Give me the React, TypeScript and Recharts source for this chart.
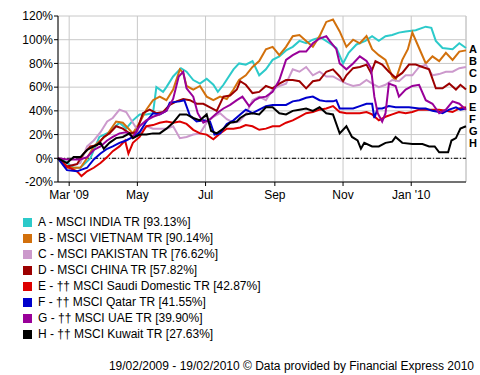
import { LineChart, Line, XAxis, YAxis, CartesianGrid, ReferenceLine, ReferenceDot } from "recharts";

// days counted from 19/02/2009
const TICK_DAYS = [10, 71, 132, 194, 255, 316];
const TICK_LABELS = ["Mar '09", "May", "Jul", "Sep", "Nov", "Jan '10"];
const Y_TICKS = [-20, 0, 20, 40, 60, 80, 100, 120];

const LETTERS = ["A", "B", "C", "D", "E", "F", "G", "H"];
const NAMES = [
  "MSCI INDIA TR [93.13%]",
  "MSCI VIETNAM TR [90.14%]",
  "MSCI PAKISTAN TR [76.62%]",
  "MSCI CHINA TR [57.82%]",
  "†† MSCI Saudi Domestic TR [42.87%]",
  "†† MSCI Qatar TR [41.55%]",
  "†† MSCI UAE TR [39.90%]",
  "†† MSCI Kuwait TR [27.63%]",
];
const COLORS = ["#2ccaca", "#d2700c", "#cc99cc", "#9c0000", "#dd0000", "#0000cc", "#990099", "#000000"];

const INDIA = [[0,0],[7,-3],[14,-8],[20,-8],[29,0],[37,18],[46,22],[55,30],[61,25],[67,32],[73,37],[79,37],[85,38],[88,60],[94,56],[97,60],[103,69],[110,76],[115,73],[121,66],[127,63],[133,67],[139,62],[143,56],[148,62],[157,75],[162,80],[168,79],[174,82],[180,70],[186,75],[192,83],[198,86],[204,91],[210,94],[216,99],[222,97],[228,100],[235,102],[243,97],[249,93],[255,80],[260,89],[267,96],[275,99],[281,103],[287,99],[293,103],[299,104],[305,106],[311,107],[320,108],[329,111],[334,110],[338,99],[344,93],[353,92],[359,97],[365,93]];
const VIETNAM = [[0,0],[8,-8],[20,-8],[26,0],[32,10],[38,15],[44,20],[52,31],[58,30],[61,27],[67,21],[73,30],[79,41],[85,49],[91,52],[97,49],[103,58],[109,75],[112,72],[115,61],[121,58],[127,61],[133,52],[139,49],[145,52],[151,50],[157,58],[162,66],[168,70],[174,77],[180,82],[186,92],[192,94],[198,87],[204,94],[210,103],[216,104],[222,99],[228,94],[234,103],[240,115],[246,117],[252,107],[258,94],[264,100],[270,97],[276,103],[281,92],[287,87],[293,83],[299,69],[302,66],[308,83],[313,92],[317,106],[323,93],[329,80],[335,86],[341,82],[347,89],[353,83],[359,90],[365,91]];
const PAKISTAN = [[0,0],[8,-7],[20,-4],[26,10],[32,15],[38,22],[44,31],[49,34],[55,41],[61,39],[67,30],[73,21],[79,27],[85,25],[91,25],[97,25],[103,27],[109,17],[115,18],[121,20],[127,21],[133,30],[139,35],[145,38],[151,33],[157,30],[162,31],[168,37],[174,49],[180,52],[186,49],[192,58],[198,61],[204,63],[210,75],[216,73],[222,77],[228,70],[234,73],[240,69],[246,69],[252,66],[258,63],[264,61],[270,62],[276,66],[281,63],[287,60],[293,62],[299,66],[305,65],[311,70],[317,70],[323,77],[329,79],[335,70],[341,71],[347,73],[353,73],[359,76],[365,77]];
const CHINA = [[0,0],[8,-7],[17,-5],[23,4],[29,10],[35,11],[41,18],[46,21],[52,27],[58,25],[64,21],[70,22],[76,38],[82,41],[88,38],[94,39],[100,45],[106,48],[112,50],[118,49],[124,46],[130,46],[136,43],[142,40],[148,52],[154,53],[160,58],[163,65],[168,62],[174,55],[180,56],[186,61],[192,59],[198,63],[204,66],[210,66],[216,65],[222,59],[228,65],[234,66],[240,73],[246,75],[252,69],[255,65],[258,70],[264,76],[270,77],[276,79],[280,72],[284,82],[290,79],[296,73],[302,68],[308,72],[314,79],[320,79],[326,77],[332,75],[338,59],[344,59],[350,63],[356,58],[360,62],[365,58]];
const SAUDI = [[0,0],[8,-7],[17,-11],[21,-15],[26,-11],[32,-8],[38,-4],[44,1],[49,6],[55,10],[60,15],[63,4],[67,13],[73,18],[79,27],[85,28],[91,30],[97,31],[103,30],[109,31],[115,29],[121,24],[127,21],[133,20],[139,16],[145,21],[151,25],[157,25],[163,26],[168,28],[174,27],[180,24],[186,25],[192,27],[198,27],[204,30],[210,32],[216,35],[222,38],[228,39],[234,41],[240,42],[246,44],[252,39],[258,38],[264,38],[270,38],[276,39],[281,37],[287,32],[293,35],[299,37],[305,39],[311,38],[317,39],[323,41],[329,41],[335,41],[341,41],[347,40],[353,39],[359,42],[365,43]];
const QATAR = [[0,0],[8,-10],[17,-11],[26,-8],[32,-1],[38,4],[44,8],[49,10],[55,13],[61,15],[67,18],[73,22],[79,31],[85,38],[91,37],[97,40],[100,47],[109,48],[113,49],[118,36],[124,31],[130,32],[136,31],[140,20],[145,21],[151,29],[157,32],[163,37],[168,41],[174,38],[180,41],[186,44],[192,45],[198,45],[204,45],[210,48],[216,49],[222,51],[228,52],[234,49],[240,48],[246,48],[249,49],[252,42],[258,42],[264,42],[270,44],[276,46],[281,46],[283,34],[286,42],[290,42],[296,44],[302,43],[308,43],[314,43],[323,42],[329,42],[335,40],[341,39],[344,38],[350,41],[356,43],[360,41],[365,42]];
const UAE = [[0,0],[8,-1],[20,-1],[26,1],[32,7],[38,10],[44,15],[49,18],[55,21],[61,22],[67,18],[73,27],[79,32],[85,35],[91,37],[97,40],[103,50],[108,69],[112,73],[115,59],[121,52],[125,38],[130,30],[136,33],[142,38],[148,42],[154,45],[160,49],[165,52],[171,44],[176,49],[180,51],[186,52],[192,56],[198,66],[204,83],[210,87],[216,90],[222,90],[228,97],[234,101],[240,103],[243,99],[249,92],[252,80],[258,75],[264,80],[270,86],[276,82],[280,76],[283,52],[286,38],[290,31],[293,38],[296,63],[302,61],[305,52],[311,58],[317,61],[323,62],[329,49],[335,46],[341,38],[347,41],[353,48],[359,46],[365,41]];
const KUWAIT = [[0,0],[8,-4],[14,1],[20,1],[26,7],[32,10],[38,13],[41,8],[46,13],[52,17],[58,18],[64,21],[67,17],[73,20],[79,20],[85,21],[91,21],[97,25],[103,30],[109,37],[115,37],[121,34],[127,32],[133,37],[137,23],[142,21],[148,25],[154,30],[160,31],[163,34],[168,37],[174,38],[180,37],[186,43],[192,43],[198,38],[204,37],[210,40],[216,41],[222,42],[228,40],[234,43],[240,38],[246,37],[252,21],[258,27],[263,18],[268,15],[271,8],[274,13],[281,10],[287,10],[293,13],[299,14],[302,18],[308,13],[317,12],[326,12],[332,10],[337,10],[341,5],[349,5],[352,15],[356,17],[360,25],[365,27]];

const SERIES = [INDIA, VIETNAM, PAKISTAN, CHINA, SAUDI, QATAR, UAE, KUWAIT];

const FONT = '"Liberation Sans", Arial, sans-serif';

// spread end labels downward so they don't overlap
function labelValues(): number[] {
  const ends = SERIES.map((s) => s[s.length - 1][1]);
  const out: number[] = [];
  ends.forEach((v, i) => {
    out.push(i === 0 ? v - 1 : Math.min(v, out[i - 1] - 10));
  });
  return out;
}

export default function App() {
  const labels = labelValues();
  return (
    <div style={{ position: "absolute", left: 0, top: 0, width: 480, height: 375, background: "#fff", fontFamily: FONT, overflow: "hidden" }}>
      <LineChart width={480} height={210} margin={{ top: 16, right: 14, left: 0, bottom: 0 }}>
        <CartesianGrid stroke="#c8c8c8" />
        <XAxis
          dataKey="d"
          type="number"
          domain={[0, 365]}
          ticks={TICK_DAYS}
          tickFormatter={(v: number) => TICK_LABELS[TICK_DAYS.indexOf(v)]}
          height={28}
          tickSize={4}
          tickMargin={4}
          axisLine={{ stroke: "#000" }}
          tickLine={{ stroke: "#000" }}
          tick={{ fontSize: 12, fill: "#000", fontFamily: FONT }}
          allowDuplicatedCategory={false}
        />
        <YAxis
          type="number"
          domain={[-20, 120]}
          ticks={Y_TICKS}
          tickFormatter={(v: number) => `${v}%`}
          width={58}
          tickSize={4}
          tickMargin={1}
          axisLine={{ stroke: "#000" }}
          tickLine={{ stroke: "#000" }}
          tick={{ fontSize: 12, fill: "#000", fontFamily: FONT }}
        />
        <ReferenceLine x={365} stroke="#c8c8c8" />
        <ReferenceLine y={0} stroke="#000" strokeDasharray="4 2 1 2" />
        {SERIES.map((s, i) => (
          <Line
            key={LETTERS[i]}
            data={s.map(([d, v]) => ({ d, v }))}
            dataKey="v"
            stroke={COLORS[i]}
            strokeWidth={2}
            dot={false}
            isAnimationActive={false}
          />
        ))}
        {LETTERS.map((l, i) => (
          <ReferenceDot
            key={"lab" + l}
            x={365}
            y={labels[i]}
            r={0}
            fill="none"
            stroke="none"
            ifOverflow="visible"
            label={(p: any) => (
              <text
                x={p.viewBox.x + 3}
                y={p.viewBox.y}
                dy="0.36em"
                fontSize={11}
                fontWeight="bold"
                fontFamily={FONT}
                fill="#000"
              >
                {l}
              </text>
            )}
          />
        ))}
      </LineChart>
      <div style={{ position: "absolute", left: 23, top: 214 }}>
        {LETTERS.map((l, i) => (
          <div key={l} style={{ height: 16, display: "flex", alignItems: "center", fontSize: 12, color: "#000" }}>
            <span style={{ width: 9, height: 9, background: COLORS[i], marginRight: 6, display: "inline-block" }} />
            <span>{`${l} - ${NAMES[i]}`}</span>
          </div>
        ))}
      </div>
      <div style={{ position: "absolute", right: 6, top: 359, fontSize: 12, color: "#000", whiteSpace: "nowrap" }}>
        19/02/2009 - 19/02/2010 © Data provided by Financial Express 2010
      </div>
    </div>
  );
}
